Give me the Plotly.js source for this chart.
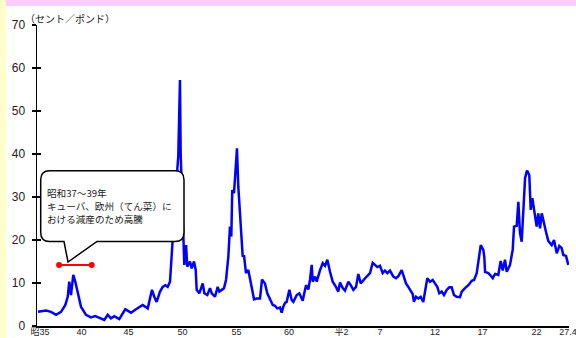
<!DOCTYPE html>
<html>
<head>
<meta charset="utf-8">
<script src="https://cdn.plot.ly/plotly-3.0.1.min.js"></script>
<style>
  html, body { margin: 0; padding: 0; background: #ffffff; }
  #chart { width: 576px; height: 338px; }
</style>
</head>
<body>
<div id="chart"></div>
<script>
// 砂糖国際価格（粗糖・月平均）の推移  単位：セント／ポンド
const years = [
  1960.00, 1960.83, 1961.36, 1961.88, 1962.40, 1962.85, 1963.10, 1963.26, 1963.44, 1963.68,
  1963.89, 1964.14, 1964.48, 1965.00, 1965.52, 1965.97, 1966.57, 1966.91, 1967.27, 1967.61,
  1967.95, 1968.47, 1969.10, 1969.69, 1970.22, 1970.91, 1971.44, 1971.88, 1972.12, 1972.37,
  1972.72, 1973.00, 1973.27, 1973.52, 1973.76, 1973.97, 1974.10, 1974.46, 1974.62, 1974.73,
  1974.80, 1974.87, 1975.04, 1975.25, 1975.43, 1975.56, 1975.84, 1976.02, 1976.26, 1976.44,
  1976.54, 1976.81, 1977.17, 1977.34, 1977.65, 1977.93, 1978.11, 1978.45, 1978.73, 1978.90,
  1979.15, 1979.39, 1979.60, 1979.84, 1980.01, 1980.15, 1980.25, 1980.43, 1980.57, 1980.74,
  1980.88, 1980.98, 1981.13, 1981.34, 1981.47, 1981.68, 1981.92, 1982.10, 1982.31, 1982.52,
  1982.80, 1983.14, 1983.35, 1983.66, 1983.90, 1984.18, 1984.47, 1984.70, 1984.94, 1985.23,
  1985.40, 1985.57, 1985.75, 1985.92, 1986.20, 1986.45, 1986.62, 1986.97, 1987.24, 1987.59,
  1987.94, 1988.18, 1988.35, 1988.53, 1988.64, 1988.88, 1989.05, 1989.40, 1989.68, 1989.92,
  1990.16, 1990.44, 1990.72, 1991.06, 1991.30, 1991.48, 1991.76, 1992.00, 1992.35, 1992.60,
  1992.87, 1993.15, 1993.39, 1993.64, 1993.91, 1994.26, 1994.61, 1994.89, 1995.13, 1995.37,
  1995.65, 1995.93, 1996.17, 1996.41, 1996.69, 1997.04, 1997.32, 1997.56, 1997.91, 1998.08,
  1998.36, 1998.60, 1998.85, 1999.06, 1999.19, 1999.40, 1999.64, 1999.89, 2000.16, 2000.44,
  2000.58, 2000.86, 2001.14, 2001.38, 2001.62, 2001.83, 2002.08, 2002.32, 2002.60, 2002.87,
  2003.12, 2003.36, 2003.64, 2003.99, 2004.17, 2004.51, 2004.86, 2005.21, 2005.45, 2005.73,
  2005.90, 2006.15, 2006.42, 2006.52, 2006.60, 2006.94, 2007.12, 2007.40, 2007.64, 2007.98,
  2008.23, 2008.44, 2008.68, 2008.86, 2009.20, 2009.48, 2009.62, 2009.90, 2010.07, 2010.24,
  2010.42, 2010.59, 2010.77, 2010.94, 2011.00, 2011.21, 2011.36, 2011.53, 2011.73, 2011.98,
  2012.15, 2012.33, 2012.51, 2012.67, 2012.95, 2013.19, 2013.55, 2013.79, 2014.07, 2014.34,
  2014.59, 2014.76, 2015.04, 2015.28
];
const prices = [
  3.3, 3.6, 3.3, 2.6, 3.3, 4.9, 6.8, 10.3, 7.2, 11.9,
  10.3, 7.6, 4.5, 2.6, 2.0, 2.3, 1.8, 1.4, 2.6, 1.8,
  2.3, 1.6, 3.9, 3.1, 3.9, 4.9, 4.1, 8.4, 6.8, 5.6,
  8.0, 9.1, 9.5, 9.1, 10.3, 18.4, 21.6, 34.7, 39.4, 50.2,
  57.2, 40.2, 29.3, 14.2, 18.8, 13.8, 15.0, 13.4, 15.0, 13.0,
  8.4, 7.6, 9.9, 7.6, 7.2, 8.8, 7.6, 6.8, 9.1, 8.0,
  8.4, 8.8, 10.7, 16.1, 23.1, 20.8, 31.6, 30.9, 35.5, 41.3,
  32.4, 28.5, 21.6, 16.1, 16.5, 12.3, 13.0, 11.1, 8.4, 6.2,
  6.4, 6.4, 10.8, 9.9, 7.6, 6.4, 4.9, 4.7, 4.1, 4.3,
  3.1, 4.5, 5.4, 5.6, 8.4, 6.0, 5.6, 7.2, 7.6, 5.9,
  9.5, 8.5, 10.7, 14.2, 10.3, 11.5, 10.3, 13.0, 14.6, 14.0,
  15.4, 12.6, 10.3, 9.1, 8.0, 10.1, 8.8, 8.2, 10.3, 9.5,
  8.4, 9.1, 12.1, 9.9, 10.7, 11.5, 12.3, 14.7, 14.2, 13.7,
  14.0, 12.3, 12.9, 12.3, 12.9, 11.5, 11.1, 11.6, 13.0, 11.9,
  9.9, 9.1, 8.0, 7.4, 5.6, 6.8, 6.4, 6.8, 5.6, 9.9,
  11.1, 10.3, 10.7, 9.9, 9.1, 7.6, 8.0, 7.2, 8.4, 9.0,
  9.0, 7.2, 6.8, 6.7, 8.0, 8.8, 9.5, 10.5, 10.7, 12.3,
  15.4, 18.8, 17.7, 16.1, 12.6, 12.3, 11.9, 11.1, 12.1, 11.9,
  15.1, 12.9, 15.4, 12.6, 14.2, 17.7, 23.1, 23.3, 28.9, 21.6,
  19.6, 28.5, 34.4, 35.9, 36.1, 35.1, 27.0, 29.7, 27.0, 23.1,
  26.2, 22.7, 26.2, 24.3, 21.9, 19.8, 18.8, 20.0, 16.9, 18.6,
  18.1, 16.5, 16.3, 14.2
];

// 和暦の目盛ラベルと、その表示位置（年）
const tickLabels = ['昭35', '40', '45', '50', '55', '60', '平2', '7', '12', '17', '22', '27.4'];
const tickYears  = [1960.21, 1964.53, 1969.43, 1975.06, 1980.69, 1986.16, 1991.64, 1995.65, 2001.38, 2006.34, 2011.97, 2015.25];

// 昭和37～39年の高騰期間を示す赤線
const highlightYears = [1962.2, 1965.6];
const highlightLevel = [14.2, 14.2];

const noteLines = ['昭和37～39年', 'キューバ、欧州（てん菜）に', 'おける減産のため高騰'];
const unitLabel = '（セント／ポンド）';

// ---- layout geometry ----
const M = { l: 37, r: 7, t: 25, b: 12 };
const W = 576 - M.l - M.r;
const H = 338 - M.t - M.b;
const px = p => (p - M.l) / W;          // page pixel -> paper x
const py = p => (M.t + H - p) / H;      // page pixel -> paper y
const pt = (x, y) => px(x).toFixed(5) + ',' + py(y).toFixed(5);

// rounded callout with a tail pointing at the red line
function calloutPath(x0, y0, x1, y1, r, tailL, tailR, tipX, tipY) {
  return 'M' + pt(x0 + r, y0) +
    ' L' + pt(x1 - r, y0) +
    ' Q' + pt(x1, y0) + ' ' + pt(x1, y0 + r) +
    ' L' + pt(x1, y1 - r) +
    ' Q' + pt(x1, y1) + ' ' + pt(x1 - r, y1) +
    ' L' + pt(tailR, y1) +
    ' L' + pt(tipX, tipY) +
    ' L' + pt(tailL, y1) +
    ' L' + pt(x0 + r, y1) +
    ' Q' + pt(x0, y1) + ' ' + pt(x0, y1 - r) +
    ' L' + pt(x0, y0 + r) +
    ' Q' + pt(x0, y0) + ' ' + pt(x0 + r, y0) + ' Z';
}

const latin = 'Liberation Sans, Arial, Noto Sans CJK JP, sans-serif';
const cjk = 'Noto Sans CJK JP, sans-serif';

const traces = [
  {
    x: years, y: prices, type: 'scatter', mode: 'lines',
    line: { color: '#0000ff', width: 2.5 },
    hoverinfo: 'skip'
  },
  {
    x: highlightYears, y: highlightLevel, type: 'scatter', mode: 'lines+markers',
    yaxis: 'y2',
    line: { color: '#ff0000', width: 2 },
    marker: { color: '#ff0000', size: 6 },
    hoverinfo: 'skip'
  }
];

// each line of the callout text placed on its own row
const noteRows = [192.8, 206.1, 219.4];
const noteAnnotations = noteLines.map((t, i) => ({
  xref: 'paper', yref: 'paper', x: px(47), y: py(noteRows[i]),
  xanchor: 'left', yanchor: 'middle', align: 'left', showarrow: false,
  borderpad: 0, borderwidth: 0,
  text: t, font: { family: cjk, size: 9.6, color: '#222222' }
}));

const layout = {
  width: 576, height: 338,
  margin: M,
  paper_bgcolor: '#ffffff',
  plot_bgcolor: '#ffffff',
  showlegend: false,
  font: { family: latin, color: '#222222' },
  xaxis: {
    range: [1959.896, 2015.35],
    tickvals: tickYears, ticktext: tickLabels,
    ticks: '', showgrid: false, zeroline: false,
    showline: true, linecolor: '#000000', linewidth: 1.5,
    tickfont: { family: latin, size: 9, color: '#222222' },
    ticklabelstandoff: -3,
    ticklabeloverflow: 'allow',
    fixedrange: true
  },
  yaxis: {
    range: [0, 70], dtick: 10,
    ticks: 'outside', ticklen: 4, tickwidth: 1.3, tickcolor: '#000000',
    showgrid: false, zeroline: false,
    showline: true, linecolor: '#000000', linewidth: 1.5,
    tickfont: { family: latin, size: 12, color: '#222222' },
    ticklabelstandoff: 4,
    fixedrange: true
  },
  yaxis2: {
    overlaying: 'y', side: 'left', anchor: 'x',
    range: [0, 70], dtick: 10,
    ticks: 'inside', ticklen: 4, tickwidth: 1.3, tickcolor: '#000000',
    showticklabels: false, showgrid: false, zeroline: false, showline: false,
    fixedrange: true
  },
  shapes: [
    { type: 'rect', xref: 'paper', yref: 'paper', layer: 'below',
      x0: px(6), x1: px(576), y0: py(6), y1: py(0),
      fillcolor: '#ffccff', line: { width: 0 } },
    { type: 'rect', xref: 'paper', yref: 'paper', layer: 'below',
      x0: px(0), x1: px(6), y0: py(338), y1: py(0),
      fillcolor: '#ffffcc', line: { width: 0 } },
    { type: 'path', xref: 'paper', yref: 'paper', layer: 'above',
      path: calloutPath(40.7, 170.7, 184, 241.5, 9, 64, 97, 68, 262),
      fillcolor: '#ffffff', line: { color: '#000000', width: 1.5 } }
  ],
  annotations: [
    { xref: 'paper', yref: 'paper', x: px(23), y: py(18.5),
      xanchor: 'left', yanchor: 'middle', showarrow: false,
      text: unitLabel, font: { family: cjk, size: 10, color: '#222222' } }
  ].concat(noteAnnotations)
};

Plotly.newPlot('chart', traces, layout, { staticPlot: true, displayModeBar: false });
</script>
</body>
</html>
